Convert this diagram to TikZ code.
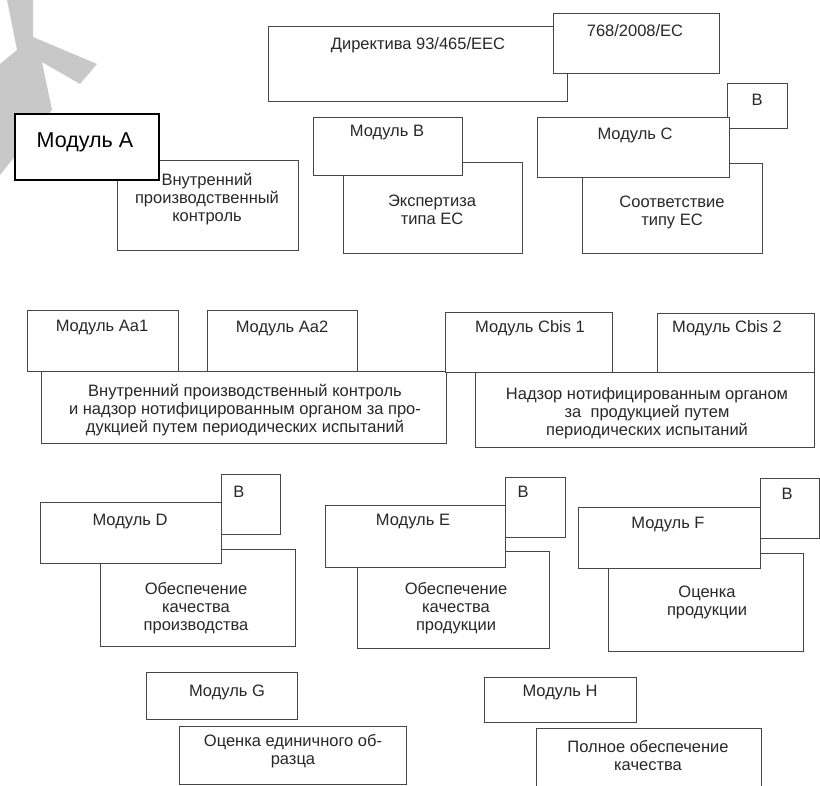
\documentclass[tikz,border=0pt]{standalone}
\usepackage{fontspec}
\setmainfont{Liberation Sans}

\definecolor{scanLine}{RGB}{70,70,70}
\definecolor{scanText}{RGB}{40,40,40}
\definecolor{stampGrey}{RGB}{200,200,200}

\tikzset{dims/.style 2 args={minimum width=#1pt, minimum height=#2pt}}

\begin{document}
\begin{tikzpicture}[x=1pt, y=-1pt]
    % Define block styles
    \tikzstyle{module} = [rectangle, draw=scanLine, fill=white, line width=0.9pt, inner sep=0pt]
    \tikzstyle{mainModule} = [rectangle, draw=black, fill=white, line width=1.6pt, inner sep=0pt]
    \tikzstyle{caption} = [text=scanText, align=center, inner sep=0pt, font=\fontsize{16.5}{18}\selectfont]

    \useasboundingbox (0,0) rectangle (820,786);
    \clip (0,0) rectangle (820,786);

    % Watermark in the corner
    \fill[stampGrey] (7,0) -- (33,0) -- (33,37) -- (97,64) -- (80,84) -- (42,62)
        -- (52,110) -- (0,175) -- (0,64) -- (17,50) -- cycle;

    % Directives
    \node[module, dims={299}{75}] (dir) at (417.5,63.5) {};
    \node[module, dims={166}{60}] (ec) at (636,43) {};

    % First row
    \node[module, dims={181}{90}] (intA) at (207.5,205) {};
    \node[mainModule, dims={144}{66}] (modA) at (87,147) {};
    \node[module, dims={179}{91}] (typeB) at (432.5,207.5) {};
    \node[module, dims={149}{58}] (modB) at (387.5,146) {};
    \node[module, dims={180}{90}] (confC) at (672,208) {};
    \node[module, dims={60}{45}] (bC) at (757,105.5) {};
    \node[module, dims={192}{60}] (modC) at (633,147) {};

    % Second row
    \node[module, dims={151}{61}] (modAa1) at (102.5,340.5) {};
    \node[module, dims={150}{61}] (modAa2) at (282,340.5) {};
    \node[module, dims={405}{72}] (ctrlAa) at (243.5,407) {};
    \node[module, dims={167}{60}] (modCb1) at (528.5,342) {};
    \node[module, dims={157}{59}] (modCb2) at (735.5,342.5) {};
    \node[module, dims={339}{75}] (survCb) at (644.5,409.5) {};

    % Third row
    \node[module, dims={195}{97}] (qualD) at (197.5,597.5) {};
    \node[module, dims={59}{60}] (bD) at (250.5,504) {};
    \node[module, dims={181}{61}] (modD) at (130.5,532.5) {};
    \node[module, dims={192}{97}] (qualE) at (453,599.5) {};
    \node[module, dims={60}{60}] (bE) at (535,507) {};
    \node[module, dims={180}{62}] (modE) at (415,536) {};
    \node[module, dims={195}{98}] (evalF) at (705.5,602) {};
    \node[module, dims={59}{60}] (bF) at (789.5,508) {};
    \node[module, dims={182}{61}] (modF) at (669,537.5) {};

    % Fourth row
    \node[module, dims={227}{58}] (evalG) at (292.5,755) {};
    \node[module, dims={151}{47}] (modG) at (221.5,695.5) {};
    \node[module, dims={225}{72}] (fullH) at (648.5,764) {};
    \node[module, dims={152}{45}] (modH) at (560,699.5) {};

    % Texts
    \node[caption] (dirT) at (418,45) {Директива 93/465/EEC};
    \node[caption] (ecT) at (635,31) {768/2008/EC};
    \node[caption, text=black, font=\fontsize{21.5}{24}\selectfont] (modAT) at (85,142) {Модуль A};
    \node[caption] (intAT) at (207,199) {Внутренний\\производственный\\контроль};
    \node[caption] (modBT) at (387,133) {Модуль B};
    \node[caption] (typeBT) at (432,210) {Экспертиза\\типа ЕС};
    \node[caption] (bCT) at (757,100) {B};
    \node[caption] (modCT) at (635,135) {Модуль C};
    \node[caption] (confCT) at (672,212) {Соответствие\\типу ЕС};

    \node[caption] (modAa1T) at (102,328) {Модуль Aa1};
    \node[caption] (modAa2T) at (282,328) {Модуль Aa2};
    \node[caption] (ctrlAaT) at (245,410) {Внутренний производственный контроль\\и надзор нотифицированным органом за про-\\дукцией путем периодических испытаний};
    \node[caption] (modCb1T) at (530,328) {Модуль Cbis 1};
    \node[caption] (modCb2T) at (727,328) {Модуль Cbis 2};
    \node[caption] (survCbT) at (647,413) {Надзор нотифицированным органом\\за\ \ продукцией путем\\периодических испытаний};

    \node[caption] (bDT) at (239,492) {B};
    \node[caption] (modDT) at (130,522) {Модуль D};
    \node[caption] (qualDT) at (196,608) {Обеспечение\\качества\\производства};
    \node[caption] (bET) at (523,492) {B};
    \node[caption] (modET) at (413,522) {Модуль E};
    \node[caption] (qualET) at (456,608) {Обеспечение\\качества\\продукции};
    \node[caption] (bFT) at (787,494) {B};
    \node[caption] (modFT) at (668,525) {Модуль F};
    \node[caption] (evalFT) at (707,602) {Оценка\\продукции};

    \node[caption] (modGT) at (227,692) {Модуль G};
    \node[caption] (evalGT) at (293,751) {Оценка единичного об-\\разца};
    \node[caption] (modHT) at (560,693) {Модуль H};
    \node[caption] (fullHT) at (648,756) {Полное обеспечение\\качества};

\end{tikzpicture}
\end{document}
